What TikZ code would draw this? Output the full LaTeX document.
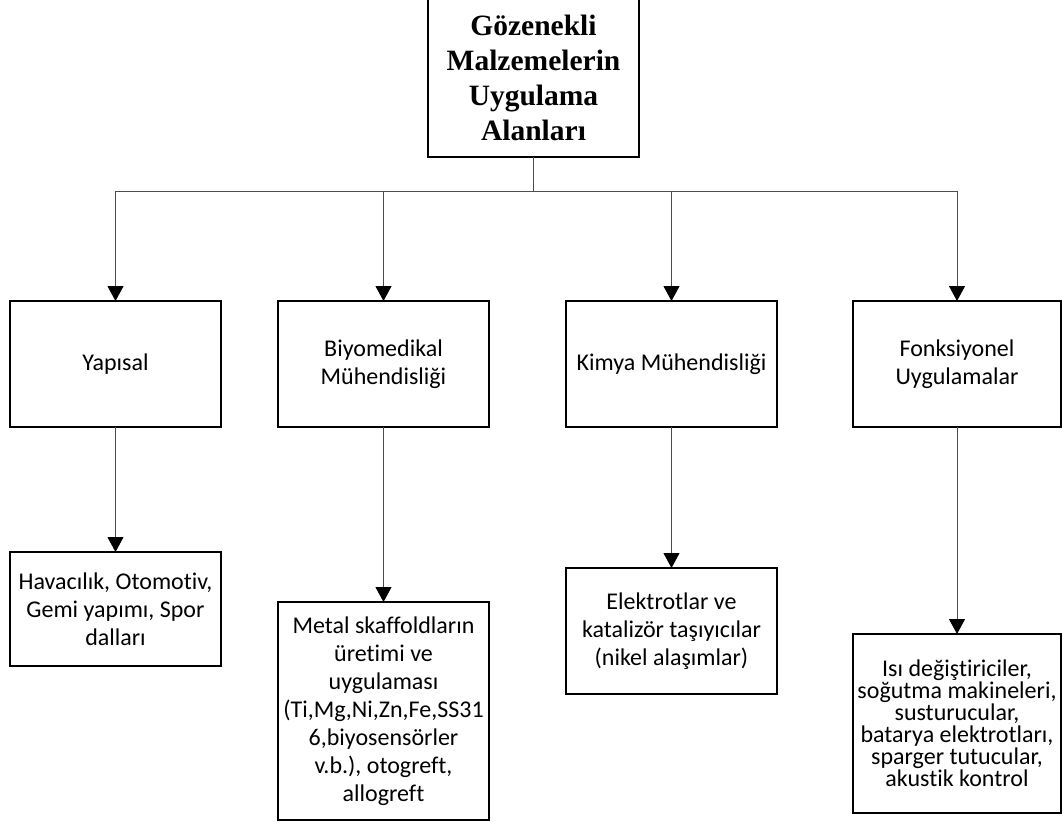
\documentclass[tikz,border=0pt]{standalone}
\usepackage{fontspec}
\setmainfont{Carlito}[Ligatures={NoCommon,NoContextual}]
\newfontfamily\titlefont{Liberation Serif}
\usetikzlibrary{arrows.meta}

\tikzset{
  box/.style={draw=black, line width=2pt, fill=white, inner sep=0pt, outer sep=0pt,
    minimum width=211pt, align=center, font=\fontsize{24}{28}\selectfont},
  tightbox/.style={box, font=\fontsize{24}{22}\selectfont},
  link/.style={draw=black!70, line width=0.9pt},
  arrowlink/.style={link, -{Triangle[length=15pt,width=16pt,color=black,fill=black]}},
}

\begin{document}
\begin{tikzpicture}[x=1pt,y=-1pt]
\useasboundingbox (0,0) rectangle (1062,825);
\fill[white] (0,0) rectangle (1062,825);

% root
\node[box, minimum width=211pt, minimum height=159pt,
      font=\titlefont\bfseries\fontsize{29.5}{35}\selectfont] (root) at (533.5,77.5)
  {Gözenekli\\Malzemelerin\\Uygulama\\Alanları};
\coordinate (j) at (533.5,191);

% first level
\node[box, minimum height=126pt] (yap) at (115.5,364) {Yapısal};
\node[box, minimum height=126pt] (bio) at (383.5,364) {Biyomedikal\\Mühendisliği};
\node[box, minimum height=126pt] (kim) at (671.5,364) {Kimya Mühendisliği};
\node[box, minimum width=208pt, minimum height=126pt] (fon) at (957,364) {Fonksiyonel\\Uygulamalar};

% second level
\node[box, minimum height=114pt] (yap2) at (115.5,609) {Havacılık, Otomotiv,\\Gemi yapımı, Spor\\dalları};
\node[box, minimum height=218pt] (bio2) at (383.5,711)
  {Metal skaffoldların\\üretimi ve\\uygulaması\\(Ti,Mg,Ni,Zn,Fe,SS31\\6,biyosensörler\\v.b.), otogreft,\\allogreft};
\node[box, minimum height=126pt] (kim2) at (671.5,631) {Elektrotlar ve\\katalizör taşıyıcılar\\(nikel alaşımlar)};
\node[tightbox, minimum width=208pt, minimum height=179pt] (fon2) at (957,723.5)
  {Isı değiştiriciler,\\soğutma makineleri,\\susturucular,\\batarya elektrotları,\\sparger tutucular,\\akustik kontrol};

% connectors
\draw[link] (root.south) -- (j);
\foreach \n in {yap,bio,kim,fon}{
  \draw[arrowlink] (j) -| (\n.north);
  \draw[arrowlink] (\n.south) -- (\n2.north);
}
\end{tikzpicture}
\end{document}
